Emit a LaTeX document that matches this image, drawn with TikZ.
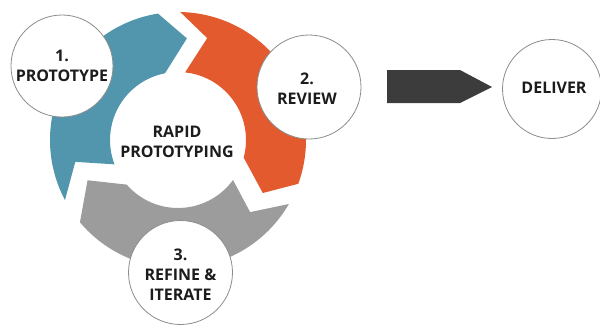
\documentclass[tikz,border=0pt]{standalone}
\usepackage{fontspec}
\setmainfont{Open Sans}
\usetikzlibrary{calc}

\definecolor{cycleblue}{RGB}{82,150,173}
\definecolor{cycleorange}{RGB}{226,90,45}
\definecolor{cyclegrey}{RGB}{156,156,156}
\definecolor{blockdark}{RGB}{60,60,60}
\definecolor{rimgrey}{RGB}{140,140,140}
\definecolor{inkdark}{RGB}{28,28,28}

\tikzset{
  stage/.style={circle, fill=white, draw=rimgrey, line width=0.8pt,
                minimum size=#1, inner sep=0pt},
  stagetext/.style={text=inkdark, align=center, inner sep=0pt,
                    font=\fontsize{16}{20}\selectfont\bfseries},
  segment/.style={fill=#1, draw=none}
}

\begin{document}
\begin{tikzpicture}[x=1pt, y=1pt]
  \useasboundingbox (0,0) rectangle (600,-327);

  % three curved chevron arrows of the cycle, around one centre
  \begin{scope}[shift={(178,-140)}]
    % 1: prototype (blue), left side
    \path[segment=cycleblue]
      (208:128) arc[start angle=208, end angle=99, radius=128]
      -- (85:102) -- (101:68)
      arc[start angle=101, end angle=201, radius=68]
      -- (192:105) -- cycle;
    % 2: review (orange), right side
    \path[segment=cycleorange]
      (89:128) arc[start angle=89, end angle=-20, radius=128]
      -- (-32:100) -- (-15:68)
      arc[start angle=-15, end angle=84, radius=68]
      -- (74:106) -- cycle;
    % 3: refine (grey), bottom
    \path[segment=cyclegrey]
      (-30:128) arc[start angle=-30, end angle=-140, radius=128]
      -- (-156:99) -- (-139:68)
      arc[start angle=-139, end angle=-36, radius=68]
      -- (-45:102) -- cycle;
  \end{scope}

  % centre label
  \node[stagetext] (core) at (177,-142) {RAPID\\PROTOTYPING};

  % stage circles
  \node[stage=102pt] (proto) at (62,-66) {};
  \node[stagetext] (protolabel) at (proto) {1.\\PROTOTYPE};

  \node[stage=104pt] (review) at (309,-87) {};
  \node[stagetext] (reviewlabel) at ($(review)+(-2,-2)$) {2.\\REVIEW};

  \node[stage=104pt] (refine) at (180.5,-272.5) {};
  \node[stagetext] (refinelabel) at ($(refine)+(0,-2)$) {3.\\REFINE \&\\ITERATE};

  % block arrow towards delivery
  \fill[blockdark] (387,-70) -- (460,-70) -- (492,-87) -- (460,-103)
    -- (387,-103) -- cycle;

  \node[stage=99pt] (deliver) at (552,-89) {};
  \node[stagetext] (deliverlabel) at ($(deliver)+(2,1)$) {DELIVER};
\end{tikzpicture}
\end{document}
